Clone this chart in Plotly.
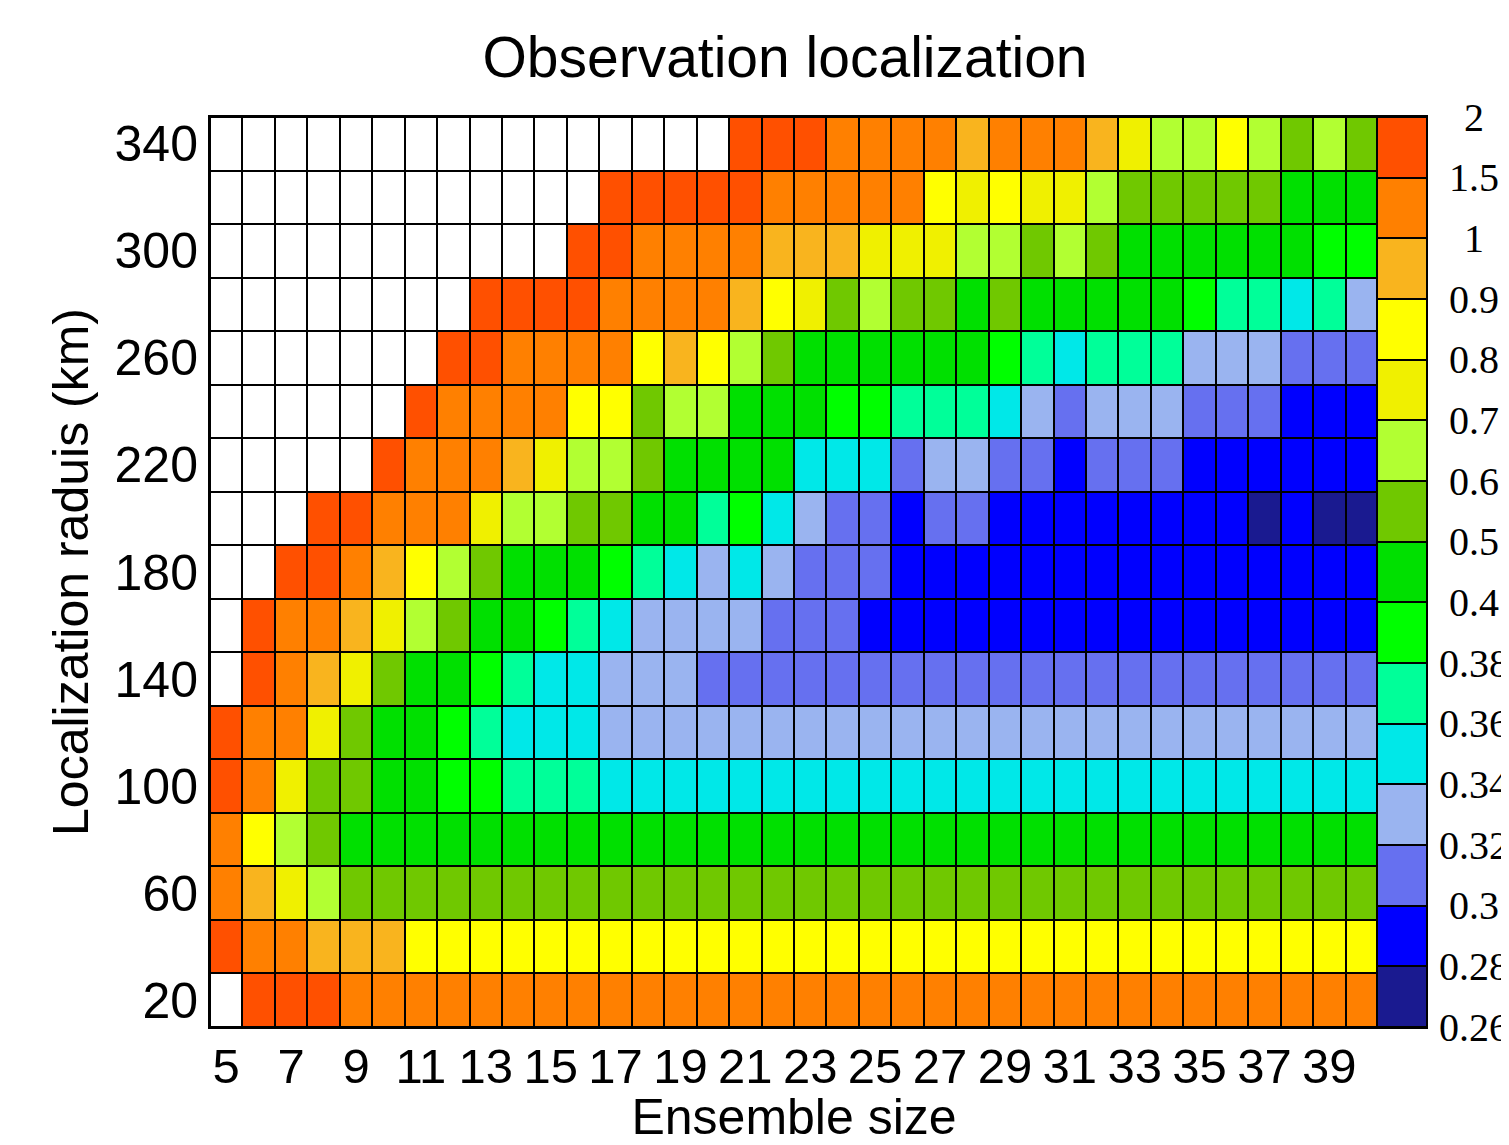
import numpy as np
import plotly.graph_objects as go

# ---------------- data ----------------
ensemble_sizes = [5, 6, 7, 8, 9, 10, 11, 12, 13, 14, 15, 16, 17, 18, 19, 20, 21, 22,
                  23, 24, 25, 26, 27, 28, 29, 30, 31, 32, 33, 34, 35, 36, 37, 38, 39, 40]
radii_km = [20, 40, 60, 80, 100, 120, 140, 160, 180, 200, 220, 240, 260, 280, 300, 320, 340]
x_tick_values = [5, 7, 9, 11, 13, 15, 17, 19, 21, 23, 25, 27, 29, 31, 33, 35, 37, 39]
y_tick_values = [20, 60, 100, 140, 180, 220, 260, 300, 340]

level_bounds = [0.26, 0.28, 0.30, 0.32, 0.34, 0.36, 0.38, 0.40, 0.5, 0.6, 0.7, 0.8, 0.9, 1.0, 1.5, 2.0]
level_labels = ["0.26", "0.28", "0.3", "0.32", "0.34", "0.36", "0.38", "0.4",
                "0.5", "0.6", "0.7", "0.8", "0.9", "1", "1.5", "2"]
level_colors = ["#1a1a90", "#0000ff", "#6670f0", "#9ab4f0", "#00e8e8", "#00ff99", "#00ff00",
                "#00e000", "#70c800", "#b2ff32", "#f0f000", "#ffff00", "#f9b41e", "#ff8000", "#ff5000"]

N = None
# one list per localization radius, ensemble size 5 ... 40
score_r340 = [N, N, N, N, N, N, N, N, N, N, N, N, N, N, N, N,
              1.75, 1.75, 1.75, 1.25, 1.25, 1.25, 1.25, 0.95, 1.25, 1.25, 1.25, 0.95, 0.75, 0.65, 0.65,
              0.85, 0.65, 0.55, 0.65, 0.55]
score_r320 = [N, N, N, N, N, N, N, N, N, N, N, N,
              1.75, 1.75, 1.75, 1.75, 1.75, 1.25, 1.25, 1.25, 1.25, 1.25, 0.85, 0.75, 0.85, 0.75, 0.75,
              0.65, 0.55, 0.55, 0.55, 0.55, 0.55, 0.45, 0.45, 0.45]
score_r300 = [N, N, N, N, N, N, N, N, N, N, N,
              1.75, 1.75, 1.25, 1.25, 1.25, 1.25, 0.95, 0.95, 0.95, 0.75, 0.75, 0.75, 0.65, 0.65, 0.55,
              0.65, 0.55, 0.45, 0.45, 0.45, 0.45, 0.45, 0.45, 0.39, 0.39]
score_r280 = [N, N, N, N, N, N, N, N,
              1.75, 1.75, 1.75, 1.75, 1.25, 1.25, 1.25, 1.25, 0.95, 0.85, 0.75, 0.55, 0.65, 0.55, 0.55,
              0.45, 0.55, 0.45, 0.45, 0.45, 0.45, 0.45, 0.39, 0.37, 0.37, 0.35, 0.37, 0.33]
score_r260 = [N, N, N, N, N, N, N,
              1.75, 1.75, 1.25, 1.25, 1.25, 1.25, 0.85, 0.95, 0.85, 0.65, 0.55, 0.45, 0.45, 0.45, 0.45,
              0.45, 0.45, 0.39, 0.37, 0.35, 0.37, 0.37, 0.37, 0.33, 0.33, 0.33, 0.31, 0.31, 0.31]
score_r240 = [N, N, N, N, N, N,
              1.75, 1.25, 1.25, 1.25, 1.25, 0.85, 0.85, 0.55, 0.65, 0.65, 0.45, 0.45, 0.45, 0.39, 0.39,
              0.37, 0.37, 0.37, 0.35, 0.33, 0.31, 0.33, 0.33, 0.33, 0.31, 0.31, 0.31, 0.29, 0.29, 0.29]
score_r220 = [N, N, N, N, N,
              1.75, 1.25, 1.25, 1.25, 0.95, 0.75, 0.65, 0.65, 0.55, 0.45, 0.45, 0.45, 0.45, 0.35, 0.35,
              0.35, 0.31, 0.33, 0.33, 0.31, 0.31, 0.29, 0.31, 0.31, 0.31, 0.29, 0.29, 0.29, 0.29, 0.29, 0.29]
score_r200 = [N, N, N,
              1.75, 1.75, 1.25, 1.25, 1.25, 0.75, 0.65, 0.65, 0.55, 0.55, 0.45, 0.45, 0.37, 0.39, 0.35,
              0.33, 0.31, 0.31, 0.29, 0.31, 0.31, 0.29, 0.29, 0.29, 0.29, 0.29, 0.29, 0.29, 0.29, 0.27,
              0.29, 0.27, 0.27]
score_r180 = [N, N,
              1.75, 1.75, 1.25, 0.95, 0.85, 0.65, 0.55, 0.45, 0.45, 0.45, 0.39, 0.37, 0.35, 0.33, 0.35,
              0.33, 0.31, 0.31, 0.31, 0.29, 0.29, 0.29, 0.29, 0.29, 0.29, 0.29, 0.29, 0.29, 0.29, 0.29,
              0.29, 0.29, 0.29, 0.29]
score_r160 = [N,
              1.75, 1.25, 1.25, 0.95, 0.75, 0.65, 0.55, 0.45, 0.45, 0.39, 0.37, 0.35, 0.33, 0.33, 0.33,
              0.33, 0.31, 0.31, 0.31, 0.29, 0.29, 0.29, 0.29, 0.29, 0.29, 0.29, 0.29, 0.29, 0.29, 0.29,
              0.29, 0.29, 0.29, 0.29, 0.29]
score_r140 = [N,
              1.75, 1.25, 0.95, 0.75, 0.55, 0.45, 0.45, 0.39, 0.37, 0.35, 0.35, 0.33, 0.33, 0.33, 0.31,
              0.31, 0.31, 0.31, 0.31, 0.31, 0.31, 0.31, 0.31, 0.31, 0.31, 0.31, 0.31, 0.31, 0.31, 0.31,
              0.31, 0.31, 0.31, 0.31, 0.31]
score_r120 = [1.75, 1.25, 1.25, 0.75, 0.55, 0.45, 0.45, 0.39, 0.37, 0.35, 0.35, 0.35,
              0.33, 0.33, 0.33, 0.33, 0.33, 0.33, 0.33, 0.33, 0.33, 0.33, 0.33, 0.33, 0.33, 0.33, 0.33,
              0.33, 0.33, 0.33, 0.33, 0.33, 0.33, 0.33, 0.33, 0.33]
score_r100 = [1.75, 1.25, 0.75, 0.55, 0.55, 0.45, 0.45, 0.39, 0.39, 0.37, 0.37, 0.37,
              0.35, 0.35, 0.35, 0.35, 0.35, 0.35, 0.35, 0.35, 0.35, 0.35, 0.35, 0.35, 0.35, 0.35, 0.35,
              0.35, 0.35, 0.35, 0.35, 0.35, 0.35, 0.35, 0.35, 0.35]
score_r80 = [1.25, 0.85, 0.65, 0.55,
             0.45, 0.45, 0.45, 0.45, 0.45, 0.45, 0.45, 0.45, 0.45, 0.45, 0.45, 0.45, 0.45, 0.45, 0.45,
             0.45, 0.45, 0.45, 0.45, 0.45, 0.45, 0.45, 0.45, 0.45, 0.45, 0.45, 0.45, 0.45, 0.45, 0.45,
             0.45, 0.45]
score_r60 = [1.25, 0.95, 0.75, 0.65,
             0.55, 0.55, 0.55, 0.55, 0.55, 0.55, 0.55, 0.55, 0.55, 0.55, 0.55, 0.55, 0.55, 0.55, 0.55,
             0.55, 0.55, 0.55, 0.55, 0.55, 0.55, 0.55, 0.55, 0.55, 0.55, 0.55, 0.55, 0.55, 0.55, 0.55,
             0.55, 0.55]
score_r40 = [1.75, 1.25, 1.25, 0.95, 0.95, 0.95,
             0.85, 0.85, 0.85, 0.85, 0.85, 0.85, 0.85, 0.85, 0.85, 0.85, 0.85, 0.85, 0.85, 0.85, 0.85,
             0.85, 0.85, 0.85, 0.85, 0.85, 0.85, 0.85, 0.85, 0.85, 0.85, 0.85, 0.85, 0.85, 0.85, 0.85]
score_r20 = [N, 1.75, 1.75, 1.75,
             1.25, 1.25, 1.25, 1.25, 1.25, 1.25, 1.25, 1.25, 1.25, 1.25, 1.25, 1.25, 1.25, 1.25, 1.25,
             1.25, 1.25, 1.25, 1.25, 1.25, 1.25, 1.25, 1.25, 1.25, 1.25, 1.25, 1.25, 1.25, 1.25, 1.25,
             1.25, 1.25]

rows_bottom_up = [score_r20, score_r40, score_r60, score_r80, score_r100, score_r120, score_r140,
                  score_r160, score_r180, score_r200, score_r220, score_r240, score_r260, score_r280,
                  score_r300, score_r320, score_r340]

# ---------------- processing ----------------
vals = np.array(rows_bottom_up, dtype=float)
n_levels = len(level_colors)
idx = np.clip(np.digitize(np.nan_to_num(vals, nan=1.0), level_bounds) - 1, 0, n_levels - 1).astype(float)
idx[np.isnan(vals)] = np.nan

colorscale = []
for k, c in enumerate(level_colors):
    colorscale.append([k / n_levels, c])
    colorscale.append([(k + 1) / n_levels, c])

SANS = "Liberation Sans, Arial, sans-serif"
SERIF = "Liberation Serif, Times New Roman, serif"

# the page body adds an 8 px offset; size the figure so it fills the 1509x1145 window
W, H = 1501, 1137
ml, mr, mt, mb = 202, 83, 109, 118
pw = W - ml - mr
main_frac = 1168 / pw

fig = go.Figure()
# white background cells (missing values show white with grid)
fig.add_trace(go.Heatmap(
    x=ensemble_sizes, y=radii_km, z=np.zeros_like(vals),
    colorscale=[[0, "white"], [1, "white"]], showscale=False,
    xgap=2, ygap=2, hoverinfo="skip"))
fig.add_trace(go.Heatmap(
    x=ensemble_sizes, y=radii_km, z=idx, customdata=vals,
    colorscale=colorscale, zmin=-0.5, zmax=n_levels - 0.5, showscale=False,
    xgap=2, ygap=2,
    hovertemplate="Ensemble size %{x}<br>Radius %{y} km<br>%{customdata}<extra></extra>"))
# colour key drawn as a one-column heatmap
fig.add_trace(go.Heatmap(
    x=[0], y=list(range(n_levels)), z=[[k] for k in range(n_levels)],
    xaxis="x2", yaxis="y2",
    colorscale=colorscale, zmin=-0.5, zmax=n_levels - 0.5, showscale=False,
    xgap=0, ygap=2, hoverinfo="skip"))

# colour-key labels, centred to the right of the key at each level boundary
key_annotations = [
    dict(text=lab, x=2.0, xref="x2 domain", y=k - 0.5, yref="y2",
         xanchor="center", yanchor="middle", showarrow=False,
         font=dict(family=SERIF, size=40, color="black"))
    for k, lab in enumerate(level_labels)
]

fig.update_layout(
    width=W, height=H, autosize=False,
    margin=dict(l=ml, r=mr, t=mt, b=mb),
    paper_bgcolor="white", plot_bgcolor="black",
    font=dict(family=SANS, color="black"),
    title=dict(text="Observation localization", font=dict(family=SANS, size=57, color="black"),
               x=(main_frac / 2) * pw / W + ml / W - 9 / W, xref="container", xanchor="center",
               y=1 - 49 / H, yref="container", yanchor="middle"),
    annotations=key_annotations,
    xaxis=dict(domain=[0, main_frac], range=[4.5, 40.5], tickvals=x_tick_values,
               ticktext=[str(v) for v in x_tick_values],
               tickfont=dict(family=SANS, size=49), ticks="", ticklabelstandoff=-5,
               showgrid=False, zeroline=False, showline=True, linecolor="black", linewidth=2,
               mirror=True, automargin=False,
               title=dict(text="Ensemble size", font=dict(family=SANS, size=50), standoff=20)),
    yaxis=dict(domain=[0, 1], range=[10, 350], tickvals=y_tick_values,
               ticktext=[str(v) for v in y_tick_values],
               tickfont=dict(family=SANS, size=50), ticks="",
               showgrid=False, zeroline=False, showline=True, linecolor="black", linewidth=2,
               mirror=True, automargin=False,
               title=dict(text="Localization raduis (km)", font=dict(family=SANS, size=50), standoff=10)),
    xaxis2=dict(domain=[main_frac, 1], anchor="y2", range=[-0.5, 0.5], showticklabels=False,
                ticks="", showgrid=False, zeroline=False, showline=True, linecolor="black",
                linewidth=2, mirror=True, fixedrange=True),
    yaxis2=dict(domain=[0, 1], anchor="x2", side="right", range=[-0.5, n_levels - 0.5],
                showticklabels=False, ticks="",
                showgrid=False, zeroline=False, showline=True, linecolor="black", linewidth=2,
                mirror=True, automargin=False, fixedrange=True),
)

fig.write_html("out.html")
